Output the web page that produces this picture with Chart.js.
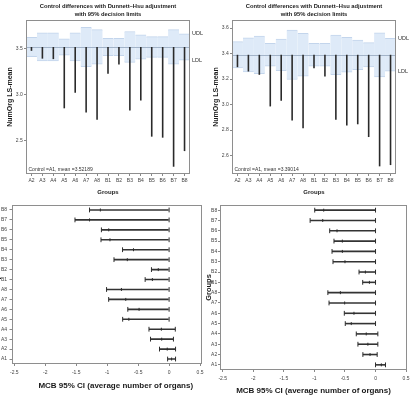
<!DOCTYPE html>
<html>
<head>
<meta charset="utf-8">
<title>Dunnett-Hsu control differences and MCB intervals</title>
<script src="https://cdn.jsdelivr.net/npm/chart.js"></script>
<style>
  body { margin: 0; background: #fff; width: 412px; height: 399px; overflow: hidden; position: relative; }
  canvas { position: absolute; }
  #tl { left: 0; top: 0; }
  #tr { left: 206px; top: 0; }
  #bl { left: -8px; top: 200px; }
  #br { left: 206px; top: 200px; }
</style>
</head>
<body>
<canvas id="tl" width="206" height="200"></canvas>
<canvas id="tr" width="206" height="200"></canvas>
<canvas id="bl" width="214" height="199"></canvas>
<canvas id="br" width="206" height="199"></canvas>
<script>
// top panels: LS-means against control A1, with decision limits
const topGroups = ['A2', 'A3', 'A4', 'A5', 'A6', 'A7', 'A8', 'B1', 'B2', 'B3', 'B4', 'B5', 'B6', 'B7', 'B8'];

const leftControl = 3.52189;
const leftMeans = [3.48, 3.395, 3.39, 2.855, 3.025, 2.81, 2.73, 3.23, 3.33, 2.83, 2.94, 2.547, 2.536, 2.22, 2.39];
const leftUdl = [3.627, 3.675, 3.675, 3.61, 3.675, 3.735, 3.71, 3.616, 3.616, 3.69, 3.655, 3.635, 3.635, 3.71, 3.665];
const leftLdl = [3.417, 3.369, 3.369, 3.434, 3.369, 3.309, 3.334, 3.428, 3.428, 3.354, 3.389, 3.409, 3.409, 3.334, 3.379];
const leftTicks = [2.5, 3.0, 3.5];

const rightControl = 3.39014;
const rightMeans = [3.293, 3.259, 3.233, 2.985, 3.03, 2.875, 2.813, 3.285, 3.22, 2.88, 2.835, 2.845, 2.745, 2.515, 2.525];
const rightUdl = [3.493, 3.524, 3.537, 3.48, 3.514, 3.584, 3.558, 3.48, 3.48, 3.545, 3.527, 3.506, 3.485, 3.563, 3.519];
const rightLdl = [3.287, 3.256, 3.243, 3.30, 3.266, 3.196, 3.222, 3.30, 3.30, 3.235, 3.253, 3.274, 3.295, 3.217, 3.261];
const rightTicks = [2.6, 2.8, 3.0, 3.2, 3.4, 3.6];

// bottom panels: MCB 95% intervals
const mcbGroups = ['A1', 'A2', 'A3', 'A4', 'A5', 'A6', 'A7', 'A8', 'B1', 'B2', 'B3', 'B4', 'B5', 'B6', 'B7', 'B8'];

const leftLower = [-0.024, -0.155, -0.30, -0.325, -0.75, -0.667, -0.976, -1.01, -0.387, -0.285, -0.89, -0.752, -1.10, -1.093, -1.52, -1.285];
const leftCenter = [0.04, -0.03, -0.12, -0.125, -0.65, -0.485, -0.70, -0.77, -0.27, -0.175, -0.675, -0.575, -0.955, -0.975, -1.285, -1.11];
const leftUpper = [0.104, 0.104, 0.07, 0.10, 0, 0, 0, 0, 0, 0, 0, 0, 0, 0, 0, 0];

const rightLower = [0, -0.207, -0.288, -0.315, -0.495, -0.511, -0.761, -0.78, -0.21, -0.27, -0.696, -0.712, -0.68, -0.75, -1.07, -0.995];
const rightCenter = [0.095, -0.09, -0.125, -0.152, -0.397, -0.353, -0.505, -0.575, -0.10, -0.166, -0.50, -0.543, -0.543, -0.63, -0.864, -0.848];
const rightUpper = [0.163, 0.027, 0.038, 0.038, 0, 0, 0, 0, 0, 0, 0, 0, 0, 0, 0, 0];

const mcbTicks = [-2.5, -2, -1.5, -1, -0.5, 0, 0.5];

Chart.defaults.font.family = '"Liberation Sans", Arial, sans-serif';
Chart.defaults.color = '#333';
Chart.defaults.animation = false;

const gridColor = '#888';

const framePlugin = {
  id: 'frame',
  afterDraw(chart) {
    const { ctx, chartArea: a } = chart;
    ctx.save();
    ctx.strokeStyle = '#8e8e8e';
    ctx.lineWidth = 1;
    ctx.strokeRect(Math.round(a.left) + 0.5, Math.round(a.top) + 0.5,
      Math.round(a.right - a.left) - 1, Math.round(a.bottom - a.top) - 1);
    ctx.restore();
  }
};

function controlPlugin(control, udl, ldl) {
  return {
    id: 'control',
    afterDatasetDraw(chart, args) {
      // mean line goes over the band, under the bars
      if (args.index !== 1) return;
      const { ctx, chartArea: a } = chart;
      const y = Math.round(chart.scales.y.getPixelForValue(control)) + 0.5;
      ctx.save();
      ctx.strokeStyle = '#a3b4c9';
      ctx.lineWidth = 1;
      ctx.beginPath();
      ctx.moveTo(a.left, y);
      ctx.lineTo(a.right, y);
      ctx.stroke();
      ctx.restore();
    },
    afterDraw(chart) {
      const { ctx, chartArea: a } = chart;
      const ys = chart.scales.y;
      const last = udl.length - 1;
      ctx.save();
      ctx.fillStyle = '#333';
      ctx.textBaseline = 'middle';
      ctx.font = '5px "Liberation Sans", Arial, sans-serif';
      ctx.fillText('Control =A1, mean =' + control, a.left + 2.5, a.bottom - 4.7);
      ctx.font = '5.5px "Liberation Sans", Arial, sans-serif';
      ctx.fillText('UDL', a.right + 2, ys.getPixelForValue(udl[last]));
      ctx.fillText('LDL', a.right + 2, ys.getPixelForValue(ldl[last]));
      ctx.restore();
    }
  };
}

function topChart(id, means, udl, ldl, control, ticks, yMin, yMax) {
  return new Chart(document.getElementById(id), {
    type: 'bar',
    data: {
      labels: topGroups,
      datasets: [
        {
          data: means.map(v => [v, control]),
          backgroundColor: '#2a2a2a',
          barThickness: 1.6,
          inflateAmount: 0,
          grouped: false,
          order: 0
        },
        {
          data: udl.map((u, i) => [ldl[i], u]),
          backgroundColor: '#deeaf8',
          borderColor: '#c3d5ec',
          borderWidth: { top: 1, bottom: 1, left: 0, right: 0 },
          borderSkipped: false,
          barPercentage: 1,
          categoryPercentage: 1,
          grouped: false,
          order: 1
        }
      ]
    },
    options: {
      responsive: false,
      layout: { padding: { top: 0, right: 16, bottom: 0, left: 0 } },
      plugins: {
        legend: { display: false },
        tooltip: { enabled: false },
        title: {
          display: true,
          fullSize: false,
          text: ['Control differences with Dunnett\u2013Hsu adjustment', 'with 95% decision limits'],
          font: { size: 5.8, weight: 'bold', lineHeight: 1.38 },
          padding: { top: 2, bottom: 2 },
          color: '#1a1a1a'
        }
      },
      scales: {
        x: {
          offset: true,
          grid: { offset: false, drawOnChartArea: false, tickLength: 2, color: gridColor },
          border: { display: false },
          ticks: { font: { size: 5 }, padding: 2, maxRotation: 0, autoSkip: false, color: '#444' },
          title: { display: true, text: 'Groups', font: { size: 6, weight: 'bold' }, padding: { top: 0, bottom: 4.4 }, color: '#1a1a1a' },
          afterFit: s => { s.height = 26; s.paddingLeft = 0; s.paddingRight = 0; }
        },
        y: {
          min: yMin,
          max: yMax,
          afterBuildTicks: s => { s.ticks = ticks.map(v => ({ value: v })); },
          grid: { drawOnChartArea: false, tickLength: 2, color: gridColor },
          border: { display: false },
          ticks: { font: { size: 5 }, padding: 1.3, color: '#444', callback: v => v.toFixed(1) },
          title: { display: true, text: 'NumOrg LS-mean', font: { size: 7, weight: 'bold' }, padding: { top: 5.8, bottom: 0 }, color: '#1a1a1a' },
          afterFit: s => { s.width = 26; s.paddingTop = 0; s.paddingBottom = 0; }
        }
      }
    },
    plugins: [controlPlugin(control, udl, ldl), framePlugin]
  });
}

const xTitle = 'MCB 95% CI (average number of organs)';

// left bottom title sits right of the axis centre in the original
const shiftedTitle = {
  id: 'shiftedTitle',
  afterDraw(chart) {
    const { ctx, chartArea: a } = chart;
    ctx.save();
    ctx.fillStyle = '#1a1a1a';
    ctx.font = 'bold 8px "Liberation Sans", Arial, sans-serif';
    ctx.textAlign = 'center';
    ctx.textBaseline = 'middle';
    ctx.fillText(xTitle, (a.left + a.right) / 2 + 9.5, a.bottom + 21.7);
    ctx.restore();
  }
};

function mcbChart(id, lower, center, upper, geo) {
  const marker = (data, r) => ({
    type: 'line',
    indexAxis: 'y',
    data: data,
    showLine: false,
    pointStyle: 'line',
    pointRotation: 90,
    pointRadius: r,
    pointBorderColor: '#2c2c2c',
    pointBorderWidth: 1,
    borderColor: '#2c2c2c'
  });
  return new Chart(document.getElementById(id), {
    type: 'bar',
    data: {
      labels: mcbGroups,
      datasets: [
        marker(lower, 2.4),
        marker(upper, 2.4),
        marker(center, 1.5),
        {
          type: 'bar',
          indexAxis: 'y',
          data: lower.map((v, i) => [v, upper[i]]),
          backgroundColor: '#333',
          barThickness: 1.6,
          inflateAmount: 0
        }
      ]
    },
    options: {
      responsive: false,
      indexAxis: 'y',
      layout: { padding: { top: 1, right: geo.right, bottom: 0, left: 0 } },
      plugins: { legend: { display: false }, tooltip: { enabled: false } },
      scales: {
        x: {
          type: 'linear',
          min: -2.545,
          max: 0.515,
          afterBuildTicks: s => { s.ticks = mcbTicks.map(v => ({ value: v })); },
          grid: { drawOnChartArea: false, tickLength: 2, color: gridColor },
          border: { display: false },
          ticks: { font: { size: 5 }, padding: geo.tickPad, color: '#444', maxRotation: 0, callback: v => String(v) },
          title: { display: geo.axisTitle, text: xTitle, font: { size: 8, weight: 'bold' }, padding: { top: 0, bottom: geo.titlePad }, color: '#1a1a1a' },
          afterFit: s => { s.height = geo.bottom; s.paddingLeft = 0; s.paddingRight = 0; }
        },
        y: {
          type: 'category',
          reverse: true,
          offset: true,
          grid: { offset: false, drawOnChartArea: false, tickLength: 2, color: gridColor },
          border: { display: false },
          ticks: { font: { size: 5 }, padding: geo.labelPad, color: '#444', autoSkip: false },
          title: { display: true, text: 'Groups', font: { size: geo.groupsSize, weight: 'bold' }, padding: { top: geo.groupsPad, bottom: 0 }, color: '#1a1a1a' },
          afterFit: s => { s.width = geo.left; s.paddingTop = 0; s.paddingBottom = 0; }
        }
      }
    },
    plugins: geo.axisTitle ? [framePlugin] : [framePlugin, shiftedTitle]
  });
}

topChart('tl', leftMeans, leftUdl, leftLdl, leftControl, leftTicks, 2.141, 3.815);
topChart('tr', rightMeans, rightUdl, rightLdl, rightControl, rightTicks, 2.455, 3.663);

mcbChart('bl', leftLower, leftCenter, leftUpper,
  { left: 19.5, right: 3, bottom: 35, tickPad: 3.5, titlePad: 8.5, labelPad: 2.5, groupsPad: 0, groupsSize: 8, axisTitle: false });
mcbChart('br', rightLower, rightCenter, rightUpper,
  { left: 14, right: 3.3, bottom: 29, tickPad: 3.2, titlePad: 3, labelPad: 0.8, groupsPad: -1.4, groupsSize: 7.5, axisTitle: true });
</script>
</body>
</html>
